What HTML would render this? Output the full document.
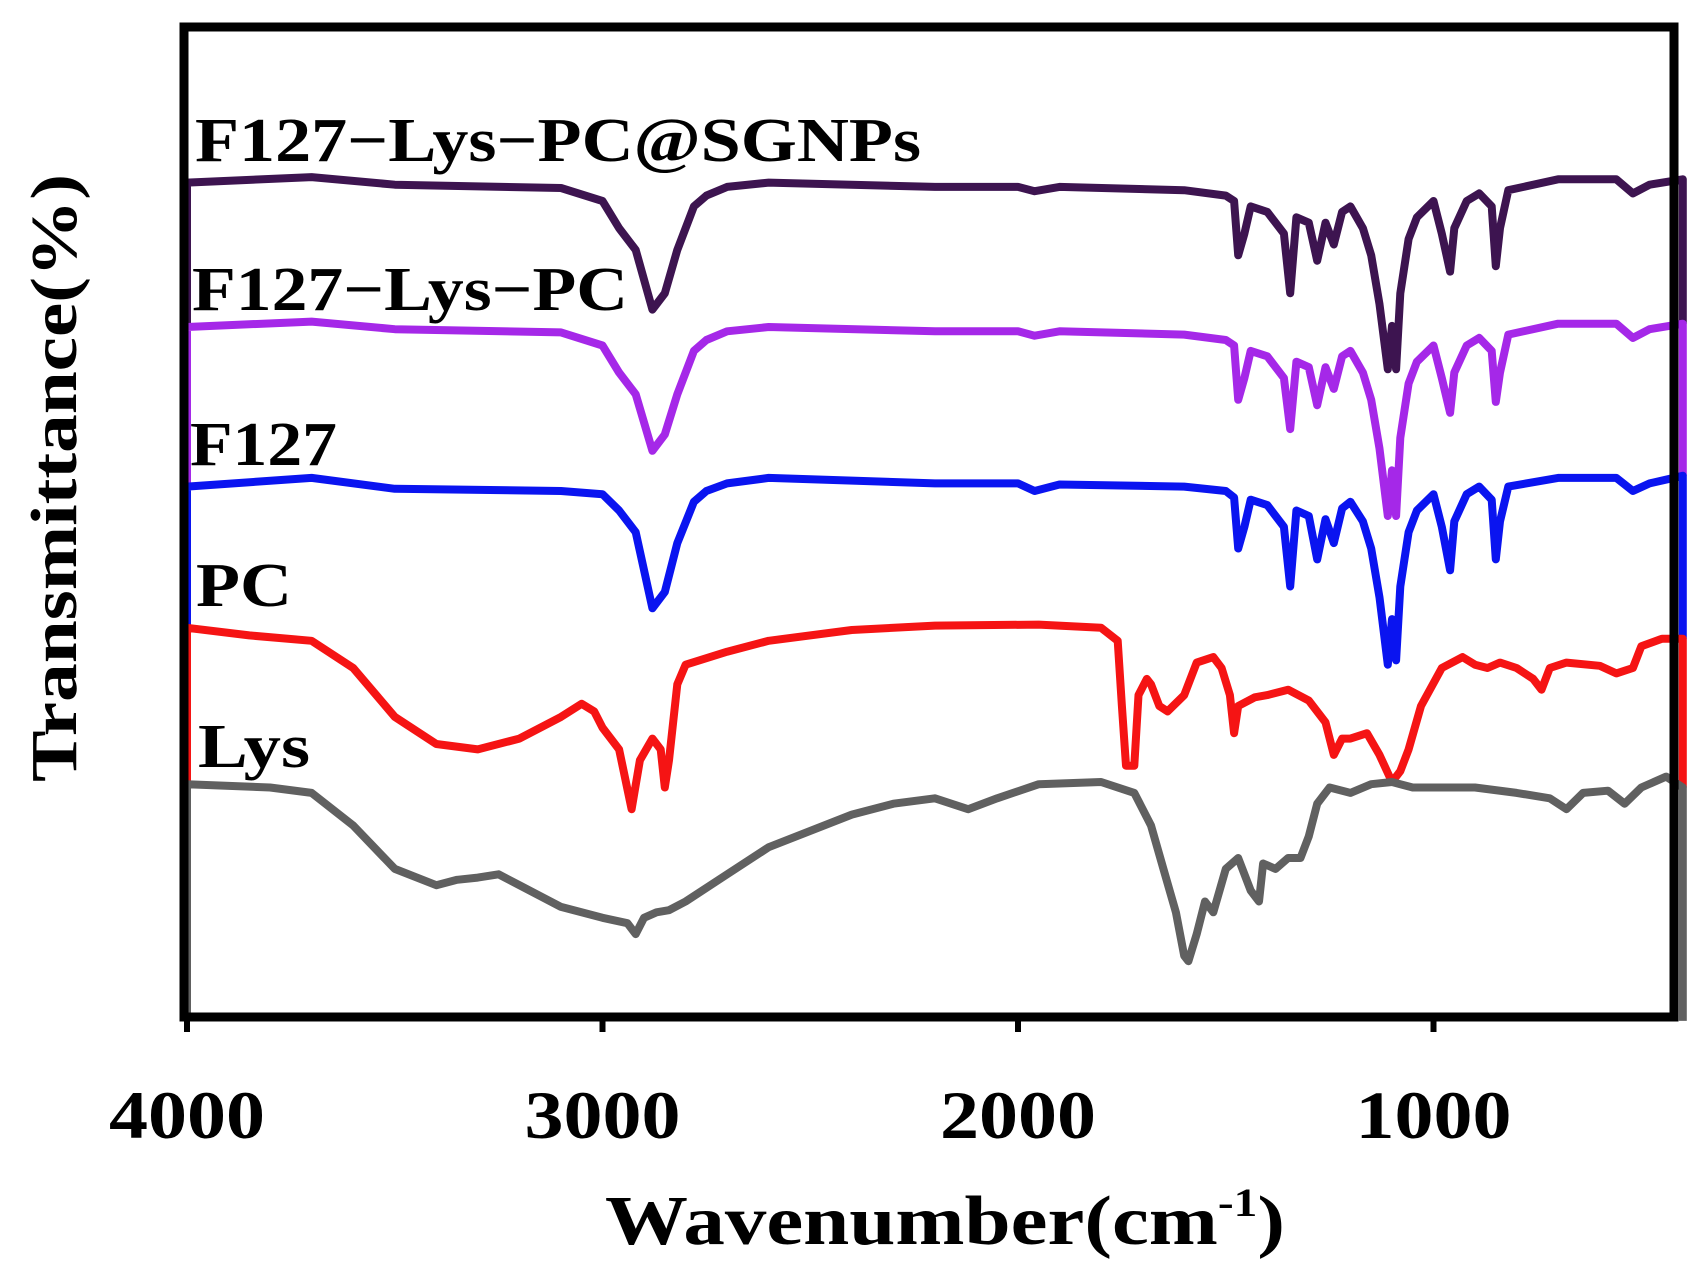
<!DOCTYPE html>
<html><head><meta charset="utf-8"><style>
html,body{margin:0;padding:0;background:#fff;}
svg{display:block;}
text{font-family:"Liberation Serif",serif;font-weight:bold;fill:#000;}
</style></head><body>
<svg id="chart" width="1694" height="1269" viewBox="0 0 1694 1269" xmlns="http://www.w3.org/2000/svg">
<g id="curves"></g>
<rect x="184" y="27" width="1490" height="990" fill="none" stroke="#000" stroke-width="9"/>
<g id="ticks"></g>
<text x="605" y="1244" font-size="70" textLength="680" lengthAdjust="spacingAndGlyphs">Wavenumber(cm<tspan font-size="40" dy="-28">-1</tspan><tspan dy="28">)</tspan></text>
<text transform="translate(76,782) rotate(-90)" font-size="66" textLength="608" lengthAdjust="spacingAndGlyphs">Transmittance(%)</text>
<text x="195" y="161" font-size="62" textLength="726" lengthAdjust="spacingAndGlyphs">F127−Lys−PC@SGNPs</text>
<text x="192" y="310" font-size="62" textLength="436" lengthAdjust="spacingAndGlyphs">F127−Lys−PC</text>
<text x="190" y="465" font-size="62" textLength="147" lengthAdjust="spacingAndGlyphs">F127</text>
<text x="196" y="606" font-size="62" textLength="96" lengthAdjust="spacingAndGlyphs">PC</text>
<text x="198" y="767" font-size="62" textLength="112" lengthAdjust="spacingAndGlyphs">Lys</text>
</svg>
<script>
const tickLabels = [4000, 3000, 2000, 1000];
const sgnpsWn = [4000,3700,3500,3100,3000,2960,2920,2880,2850,2820,2780,2750,2700,2600,2200,2000,1960,1900,1600,1500,1480,1470,1455,1440,1400,1360,1345,1330,1300,1280,1260,1240,1220,1200,1170,1150,1130,1110,1100,1090,1080,1060,1040,1000,980,960,950,920,890,860,850,840,820,700,560,520,480,400];
const sgnpsDepth = [168,163,170,173,185,210,230,285,270,230,190,180,172,168,172,172,176,172,175,180,185,235,215,190,195,215,270,200,205,240,205,225,195,190,210,235,280,340,300,340,270,220,200,185,215,250,210,185,178,190,245,210,175,165,165,178,170,165];
const f127LysPcWn = sgnpsWn;
const f127LysPcDepth = [301,296,303,306,318,343,363,415,400,363,323,313,305,301,305,305,309,305,308,313,318,368,348,323,328,348,395,333,338,373,338,358,328,323,343,368,413,475,433,475,403,353,333,318,348,380,343,318,311,323,370,343,308,298,298,311,303,298];
const f127Wn = sgnpsWn;
const f127Depth = [448,440,450,452,455,470,490,560,545,500,462,452,445,440,445,445,452,446,448,452,458,505,485,460,465,485,540,470,475,515,478,500,468,462,480,505,550,612,570,608,540,490,470,455,485,525,480,455,448,460,515,480,448,440,440,452,445,438];
const pcWn = [4000,3850,3700,3600,3500,3400,3300,3200,3100,3050,3020,3000,2960,2930,2910,2880,2860,2850,2840,2820,2800,2700,2600,2400,2200,1950,1800,1760,1750,1740,1720,1710,1690,1680,1660,1640,1600,1570,1530,1510,1490,1480,1470,1430,1400,1350,1300,1260,1240,1220,1200,1160,1130,1100,1080,1060,1030,980,930,900,870,840,800,760,740,720,680,600,560,520,500,450,400];
const pcDepth = [578,585,590,615,660,685,690,680,660,648,655,670,690,745,700,680,690,725,700,630,612,600,590,580,576,575,578,590,650,705,705,640,625,630,650,655,640,610,605,615,640,675,650,642,640,635,645,665,695,680,680,675,695,720,710,690,650,615,605,612,615,610,615,625,635,615,610,613,620,615,595,588,588];
const lysWn = [4000,3800,3700,3600,3500,3400,3350,3300,3250,3200,3100,3000,2940,2920,2900,2870,2840,2800,2700,2600,2400,2300,2200,2120,2050,1950,1800,1720,1680,1650,1620,1600,1590,1570,1550,1530,1500,1470,1440,1420,1410,1380,1350,1320,1300,1280,1250,1200,1150,1100,1050,900,800,720,680,640,580,540,500,440,400];
const lysDepth = [722,725,730,760,800,815,810,808,805,815,835,845,850,860,845,840,838,830,805,780,750,740,735,745,735,722,720,730,760,800,840,880,885,860,830,840,800,790,820,830,795,800,790,790,770,740,725,730,722,720,725,725,730,735,745,730,728,740,725,715,725];

const seriesList = [
  {name:'sgnps', wn:sgnpsWn, d:sgnpsDepth, color:'#3d1450'},
  {name:'f127-lys-pc', wn:f127LysPcWn, d:f127LysPcDepth, color:'#a528e8'},
  {name:'f127', wn:f127Wn, d:f127Depth, color:'#0a14f0'},
  {name:'pc', wn:pcWn, d:pcDepth, color:'#f51414'},
  {name:'lys', wn:lysWn, d:lysDepth, color:'#606060'}
];
function xScale(w){ return 187 + (4000 - w) * 0.4155; }
function yScale(v){ return 24 + (v - 22) * 1.086; }
const NS = 'http://www.w3.org/2000/svg';
const g = document.getElementById('curves');
seriesList.forEach((s, i) => {
  const next = seriesList[i+1];
  const nextStartL = next ? yScale(next.d[0]) : yScale(940);
  const nextStartR = next ? yScale(next.d[next.d.length-1]) : yScale(940);
  let pts = [];
  pts.push([xScale(4000), nextStartL]);
  for (let k = 0; k < s.wn.length; k++) pts.push([xScale(s.wn[k]), yScale(s.d[k])]);
  pts.push([xScale(s.wn[s.wn.length-1]), nextStartR]);
  const p = document.createElementNS(NS, 'polyline');
  p.setAttribute('points', pts.map(q => q[0].toFixed(1)+','+q[1].toFixed(1)).join(' '));
  p.setAttribute('fill', 'none');
  p.setAttribute('stroke', s.color);
  p.setAttribute('stroke-width', '8');
  p.setAttribute('stroke-linejoin', 'round');
  
  
  g.appendChild(p);
});
const tg = document.getElementById('ticks');
tickLabels.forEach(t => {
  const x = xScale(t);
  const l = document.createElementNS(NS, 'line');
  l.setAttribute('x1', x); l.setAttribute('x2', x);
  l.setAttribute('y1', 1017); l.setAttribute('y2', 1032);
  l.setAttribute('stroke', '#000'); l.setAttribute('stroke-width', '6');
  
  
  tg.appendChild(l);
  const tx = document.createElementNS(NS, 'text');
  tx.setAttribute('x', x - 78); tx.setAttribute('y', 1138);
  tx.setAttribute('font-size', '68');
  tx.setAttribute('textLength', '156'); tx.setAttribute('lengthAdjust', 'spacingAndGlyphs');
  tx.textContent = t;
  
  
  tg.appendChild(tx);
});
</script>
</body></html>
